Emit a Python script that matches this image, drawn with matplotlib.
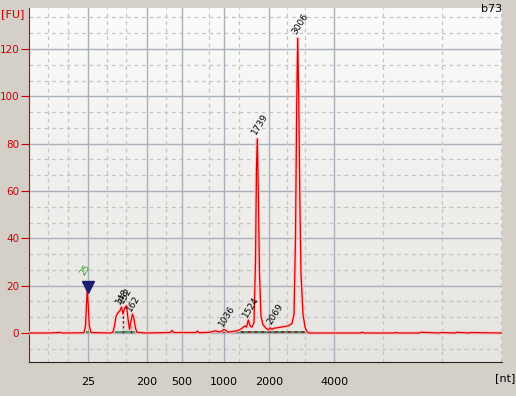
import numpy as np
import matplotlib
matplotlib.use("Agg")
from matplotlib import pyplot as plt

# electropherogram trace: migration time [s] and fluorescence [FU]
time_s = [20.0, 22.1, 23.1, 23.3, 25.5, 25.65, 25.75, 25.83, 25.92, 26.03, 26.2,
          28.1, 28.4, 28.55, 28.7, 28.9, 29.1, 29.25, 29.4, 29.55, 29.75, 29.9,
          30.05, 30.15, 30.35, 30.5, 30.65, 30.8, 31.6, 34.1, 34.3, 34.5, 36.7,
          36.85, 37.0, 38.1, 38.4, 38.7, 38.9, 39.2, 39.5, 39.7, 39.9, 40.3,
          40.9, 41.3, 41.6, 41.75, 41.93, 42.1, 42.3, 42.5, 42.65, 42.75, 42.83,
          42.93, 43.05, 43.2, 43.4, 43.7, 43.95, 44.1, 44.3, 44.5, 44.8, 45.4,
          45.9, 46.3, 46.5, 46.65, 46.78, 46.87, 46.97, 47.07, 47.2, 47.4, 47.6,
          47.8, 48.0, 50.1, 53.1, 53.3, 53.5, 56.5, 56.7, 56.9, 59.0, 59.2,
          61.0, 61.2, 62.6, 62.8, 64.0, 64.2, 67.3]
fu = [0.0, 0.0, 0.25, 0.0, 0.1, 3.0, 12.0, 18.5, 12.0, 3.0, 0.2,
      0.0, 0.3, 3.0, 7.0, 8.5, 9.5, 11.0, 8.0, 10.5, 11.5, 6.0,
      1.5, 4.0, 8.0, 6.0, 2.0, 0.3, 0.0, 0.2, 1.0, 0.2, 0.2,
      0.8, 0.1, 0.3, 0.7, 0.9, 0.5, 0.5, 1.5, 1.0, 0.3, 0.6,
      1.0, 2.0, 3.0, 2.5, 5.5, 3.0, 2.5, 4.5, 30.0, 70.0, 82.0,
      60.0, 25.0, 7.0, 3.5, 2.0, 1.3, 2.2, 1.5, 2.0, 2.2, 2.6,
      3.0, 4.0, 8.0, 40.0, 100.0, 124.5, 100.0, 60.0, 25.0, 8.0, 2.5,
      0.5, 0.0, 0.0, 0.0, 0.3, 0.0, 0.0, 0.25, 0.0, 0.0, 0.3,
      0.0, 0.2, 0.0, 0.3, 0.0, 0.2, 0.0]

# ladder sizes [nt] and their migration times
ladder_nt = ["25", "200", "500", "1000", "2000", "4000"]
ladder_t = [25.87, 31.77, 35.27, 39.53, 44.0, 50.53]
minor_t = [21.93, 23.87, 27.77, 29.7, 33.67, 38.03, 41.03, 45.83, 47.6,
           55.43, 61.33, 67.2]

# peak calls: size label, time, label height
peak_lbl = ["25", "148", "152", "162", "1036", "1524", "1739", "2069", "3006"]
peak_t = [25.75, 29.25, 29.55, 30.35, 39.55, 42.0, 42.83, 44.45, 46.87]
peak_fu = [23.5, 11.5, 12.0, 8.5, 2.0, 6.0, 83.0, 3.0, 125.5]

fig = plt.figure(figsize=(5.16, 3.96), dpi=100)
fig.patch.set_facecolor("#d4d0c8")
ax = fig.add_axes([29/516, 34/396, 473/516, 354/396])
ax.set_xlim(20, 67.3)
ax.set_ylim(-12.25, 137.3)

# light gradient background
grad = np.linspace(0.9, 0, 100).reshape(-1, 1)
ax.imshow(grad, extent=[20, 67.3, -12.25, 137.3], aspect="auto",
          cmap=matplotlib.colors.LinearSegmentedColormap.from_list(
              "bg", ["#e6e4e0", "#fbfbfb"]), zorder=0)

# grid
for y in range(0, 121, 20):
    ax.axhline(y, color="#aab0ba", lw=1, zorder=1)
for y in np.arange(-20/3, 137, 20/3):
    if round(y * 3) % 60 != 0:
        ax.axhline(y, color="#c4c4c4", lw=0.9, ls=(0, (3, 3)), zorder=1)
for t in ladder_t:
    ax.axvline(t, color="#aab0ba", lw=1, zorder=1)
for t in minor_t:
    ax.axvline(t, color="#c4c4c4", lw=0.9, ls=(0, (3, 3)), zorder=1)

# baseline fit segments
ax.plot([25.5, 26.2], [0.3, 0.3], color="#2e8b57", lw=1.2, zorder=2)
ax.plot([28.4, 30.8], [0.3, 0.3], color="#2e8b57", lw=1.2, zorder=2)
ax.plot([39.2, 47.9], [0.3, 0.3], color="#2e8b57", lw=1.2, zorder=2)
ax.plot([39.2, 47.9], [0.3, 0.3], color="#8b1a1a", lw=1.2, ls=(0, (2, 2)), zorder=2)

# peak split lines
ax.plot([29.4, 29.4], [0, 8.0], color="#d00000", lw=1, ls=(0, (2, 1.5)), zorder=3)
ax.plot([30.15, 30.15], [0, 4.0], color="#d00000", lw=1, ls=(0, (2, 1.5)), zorder=3)

# trace with halo
ax.plot(time_s, fu, color="#ffc6c6", lw=2.4, zorder=3, solid_joinstyle="round")
ax.plot(time_s, fu, color="#dd0000", lw=0.9, zorder=4)

# marker
ax.plot([25.87], [19.4], marker="v", ms=8, color="#1c1c70", zorder=5)

for lbl, t, h in zip(peak_lbl, peak_t, peak_fu):
    col = "#2a9a2a" if lbl == "25" else "black"
    ax.text(t, h, lbl, rotation=58, fontsize=6.5, color=col,
            ha="left", va="bottom", rotation_mode="anchor", zorder=6)

for s in ["top", "right"]:
    ax.spines[s].set_visible(False)
ax.spines["left"].set_color("#cc0000")
ax.spines["bottom"].set_color("#222222")

ax.set_yticks(range(0, 121, 20))
ax.tick_params(axis="y", colors="#cc0000", length=6, labelsize=7.5, pad=1)
ax.set_xticks(ladder_t)
ax.set_xticklabels(ladder_nt)
ax.tick_params(axis="x", length=0, labelsize=8, pad=11)

fig.text(1/516, 1 - 14/396, "[FU]", color="#cc0000", fontsize=8, va="center")
fig.text(495/516, 1 - 378/396, "[nt]", color="black", fontsize=8, va="center")
fig.text(502/516, 1 - 9/396, "b73", color="black", fontsize=8, va="center", ha="right")

fig.savefig("out.png", dpi=100, facecolor=fig.get_facecolor())
